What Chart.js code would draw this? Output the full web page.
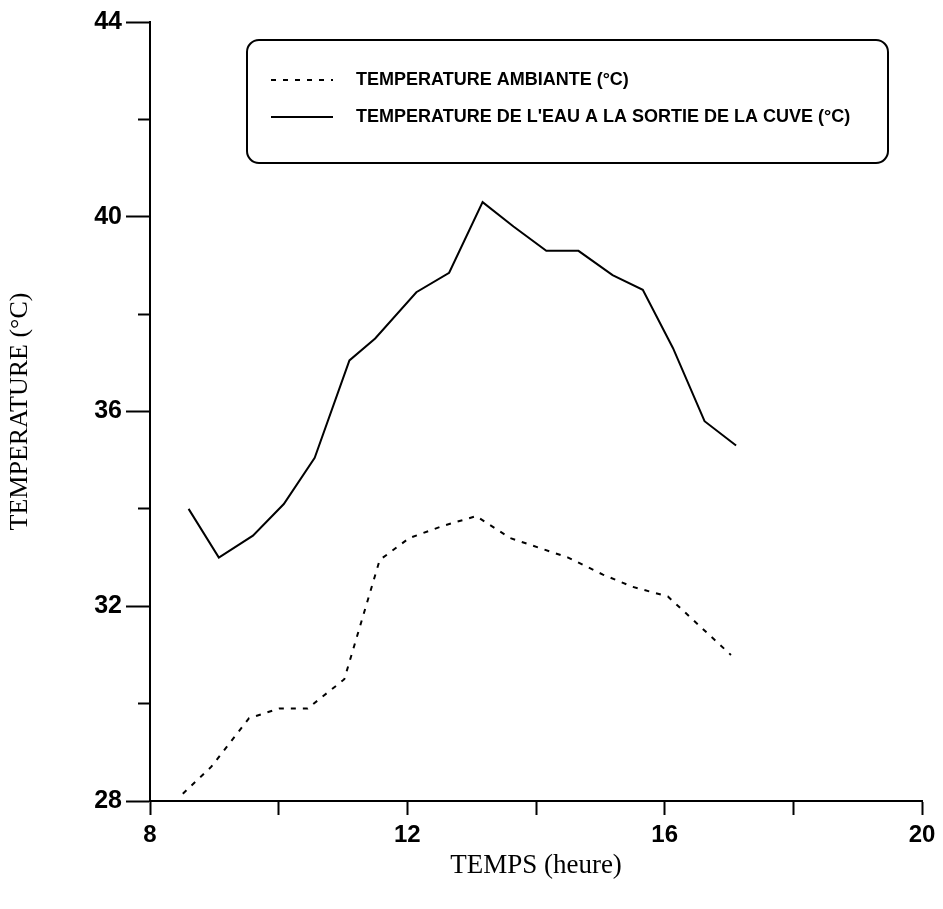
<!DOCTYPE html>
<html>
<head>
<meta charset="utf-8">
<script src="https://cdn.jsdelivr.net/npm/chart.js@4.4.1/dist/chart.umd.min.js"></script>
<style>
  html, body { margin: 0; padding: 0; background: #fff; }
  #wrap { width: 943px; height: 909px; }
</style>
</head>
<body>
<div id="wrap"><canvas id="temp_chart" width="943" height="909"></canvas></div>
<script>
// valeurs
var heures_ambiante = [8.51, 8.95, 9.54, 10.01, 10.45, 11.02, 11.57, 12.03, 12.55, 13.07, 13.6, 14.05, 14.5, 15.04, 15.5, 16.05, 16.54, 17.03];
var temp_ambiante = [28.15, 28.7, 29.7, 29.9, 29.9, 30.5, 32.95, 33.4, 33.65, 33.85, 33.4, 33.2, 33.0, 32.65, 32.4, 32.2, 31.6, 31.0];

var heures_cuve = [8.6, 9.07, 9.6, 10.08, 10.56, 11.1, 11.5, 12.14, 12.65, 13.17, 13.65, 14.16, 14.66, 15.19, 15.66, 16.13, 16.62, 17.11];
var temp_cuve = [34.0, 33.0, 33.45, 34.1, 35.05, 37.05, 37.5, 38.45, 38.85, 40.3, 39.8, 39.3, 39.3, 38.8, 38.5, 37.3, 35.8, 35.3];

var labels_series = ["TEMPERATURE AMBIANTE (°C)", "TEMPERATURE DE L'EAU A LA SORTIE DE LA CUVE (°C)"];
var x_ticks_labelled = [8, 12, 16, 20];
var y_ticks_labelled = [28, 32, 36, 40, 44];

function points(xs, ys) {
  var pts = [];
  for (var i = 0; i < xs.length; i++) {
    pts.push({x: xs[i], y: ys[i]});
  }
  return pts;
}

// cadre de legende dessine a la main (coin arrondi)
var legendBox = {
  id: 'legendBox',
  afterDraw: function(chart) {
    var ctx = chart.ctx;
    var x0 = 247, y0 = 40, x1 = 888, y1 = 163, r = 12;
    ctx.save();
    ctx.strokeStyle = '#000';
    ctx.lineWidth = 2;
    ctx.beginPath();
    ctx.moveTo(x0 + r, y0);
    ctx.arcTo(x1, y0, x1, y1, r);
    ctx.arcTo(x1, y1, x0, y1, r);
    ctx.arcTo(x0, y1, x0, y0, r);
    ctx.arcTo(x0, y0, x1, y0, r);
    ctx.closePath();
    ctx.stroke();

    var rows = [80, 117];
    chart.data.datasets.forEach(function(ds, i) {
      ctx.beginPath();
      ctx.setLineDash(ds.borderDash || []);
      ctx.lineWidth = 2;
      ctx.moveTo(271, rows[i]);
      ctx.lineTo(333, rows[i]);
      ctx.stroke();
      ctx.setLineDash([]);
      ctx.fillStyle = '#000';
      ctx.font = 'bold 18px "Liberation Sans", Arial, sans-serif';
      ctx.textBaseline = 'middle';
      ctx.fillText(ds.label, 356, rows[i]);
    });
    ctx.restore();
  }
};

var ctx = document.getElementById('temp_chart');
var myChart = new Chart(ctx, {
  type: 'line',
  data: {
    datasets: [{
      label: labels_series[0],
      data: points(heures_ambiante, temp_ambiante),
      borderColor: '#000',
      borderWidth: 2,
      borderDash: [5, 7],
      pointRadius: 0,
      tension: 0
    }, {
      label: labels_series[1],
      data: points(heures_cuve, temp_cuve),
      borderColor: '#000',
      borderWidth: 2,
      pointRadius: 0,
      tension: 0
    }]
  },
  options: {
    responsive: false,
    animation: false,
    layout: {padding: {top: 22, right: 21, bottom: 0, left: 0}},
    plugins: {legend: {display: false}, tooltip: {enabled: false}},
    scales: {
      x: {
        type: 'linear',
        min: 8, max: 20,
        afterFit: function(s) { s.height = 108; },
        border: {color: '#000', width: 2},
        grid: {drawOnChartArea: false, color: '#000', tickLength: 14, tickWidth: 2},
        ticks: {
          stepSize: 2,
          color: '#000',
          padding: 6,
          maxRotation: 0,
          font: {family: '"Liberation Sans", Arial, sans-serif', size: 24, weight: 'bold'},
          callback: function(v) { return x_ticks_labelled.indexOf(v) >= 0 ? v : ''; }
        },
        title: {
          display: true,
          text: 'TEMPS (heure)',
          color: '#000',
          padding: {top: 0, bottom: 27},
          font: {family: '"Liberation Serif", "Times New Roman", serif', size: 27}
        }
      },
      y: {
        min: 28, max: 44,
        afterFit: function(s) { s.width = 150; },
        border: {color: '#000', width: 2},
        grid: {
          drawOnChartArea: false, color: '#000', tickLength: 24, tickWidth: 2,
          tickBorderDash: function(c) { return y_ticks_labelled.indexOf(c.tick.value) >= 0 ? [] : [12, 12]; },
          tickBorderDashOffset: 12
        },
        ticks: {
          stepSize: 2,
          color: '#000',
          padding: 4,
          font: {family: '"Liberation Sans", Arial, sans-serif', size: 25, weight: 'bold'},
          callback: function(v) { return y_ticks_labelled.indexOf(v) >= 0 ? v : ''; }
        },
        title: {
          display: true,
          text: 'TEMPERATURE (°C)',
          color: '#000',
          padding: {top: 5, bottom: 0},
          font: {family: '"Liberation Serif", "Times New Roman", serif', size: 26}
        }
      }
    }
  },
  plugins: [legendBox]
});
</script>
</body>
</html>
